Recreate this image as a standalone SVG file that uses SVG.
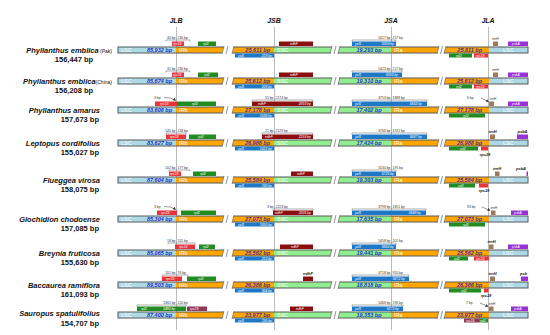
<svg xmlns="http://www.w3.org/2000/svg" width="550" height="335" viewBox="0 0 550 335">
<style>
text{font-family:"Liberation Sans",Arial,sans-serif}
.sp{font-weight:bold;font-style:italic;font-size:7.5px;fill:#111}
.sm{font-weight:normal;font-style:normal;font-size:5px}
.sz{font-weight:bold;font-size:7.5px;fill:#111}
.hd{font-weight:bold;font-style:italic;font-size:7px;fill:#111}
.rg{font-size:5.5px;fill:#fff}
.nb{font-weight:bold;font-style:italic;font-size:5.5px;fill:#2233cc}
.ni{font-weight:bold;font-style:italic;font-size:5.5px;fill:#55289a}
.gl{font-size:3.4px;fill:#fff;font-style:italic}
.bl{font-size:3.4px;fill:#333}
.ol{font-size:4px;fill:#111;font-style:italic;font-weight:bold}
.lsc{fill:#add8e6}.ir{fill:#ffa500}.ssc{fill:#90ee90}
.rps19{fill:#e8333a}.rpl2{fill:#228b22}.ycf1{fill:#1e78c8}.ndhF{fill:#8b0f0f}.trnH{fill:#9c7b5b}.psbA{fill:#9b30d9}.mar{fill:#8e3a59}
.brk{stroke:#777;stroke-width:0.6;fill:none}
.arr{stroke:#333;stroke-width:0.5;fill:none}
.jl{stroke:#aaa;stroke-width:0.8}
</style>
<defs>
<marker id="ah" markerUnits="userSpaceOnUse" markerWidth="3" markerHeight="3" refX="2.5" refY="1.5" orient="auto"><path d="M0,0 L3,1.5 L0,3z" fill="#333"/></marker>
<g id="bar">
<rect x="118" y="0" width="58" height="6" class="lsc"/>
<rect x="176" y="0" width="98" height="6" class="ir"/>
<rect x="274" y="0" width="117" height="6" class="ssc"/>
<rect x="391" y="0" width="98" height="6" class="ir"/>
<rect x="489" y="0" width="39" height="6" class="lsc"/>
<rect x="118" y="0" width="410" height="6" fill="none" stroke="#5a5a5a" stroke-width="1"/>
<polygon points="224,-1 234,-1 232,7 222,7" fill="#fff"/>
<path d="M224,-1 L222,7 M228,-1 L226,7 M234,-1 L232,7" stroke="#666" stroke-width="0.7"/>
<polygon points="332,-1 340,-1 338,7 330,7" fill="#fff"/>
<path d="M332,-1 L330,7 M336,-1 L334,7 M340,-1 L338,7" stroke="#666" stroke-width="0.7"/>
<polygon points="439,-1 446,-1 444,7 437,7" fill="#fff"/>
<path d="M439,-1 L437,7 M442.5,-1 L440.5,7 M446,-1 L444,7" stroke="#666" stroke-width="0.7"/>
<text x="121" y="4.6" class="rg">LSC</text>
<text x="179" y="4.6" class="rg">IRb</text>
<text x="277" y="4.6" class="rg">SSC</text>
<text x="394" y="4.6" class="rg">IRa</text>
<text x="503" y="4.6" class="rg">LSC</text>
</g>
</defs>
<rect width="550" height="335" fill="#fff"/>
<g id="headers">
<text x="176" y="23" text-anchor="middle" class="hd">JLB</text>
<text x="274" y="23" text-anchor="middle" class="hd">JSB</text>
<text x="391" y="23" text-anchor="middle" class="hd">JSA</text>
<text x="488" y="23" text-anchor="middle" class="hd">JLA</text>
</g>
<g id="connectors">
<line x1="176.5" y1="27" x2="176.5" y2="330" class="jl"/>
<line x1="274.5" y1="27" x2="274.5" y2="330" class="jl"/>
<line x1="391.5" y1="27" x2="391.5" y2="330" class="jl"/>
<line x1="488.5" y1="27" x2="488.5" y2="330" class="jl"/>
</g>

<g id="row1" transform="translate(0,47)">
<text x="112" y="6" text-anchor="end" class="sp">Phyllanthus emblica<tspan class="sm"> (Pak)</tspan></text>
<text x="74" y="15" text-anchor="middle" class="sz">156,447 bp</text>
<use href="#bar"/>
<text x="172" y="4.6" text-anchor="end" class="nb">85,932 bp</text>
<text x="270" y="4.6" text-anchor="end" class="ni">25,611 bp</text>
<text x="369" y="4.6" text-anchor="middle" class="nb">19,293 bp</text>
<text x="482" y="4.6" text-anchor="end" class="ni">25,611 bp</text>
<path d="M166,-5.5 V-7 H190 V-5.5" class="brk"/>
<text x="175.5" y="-7.8" text-anchor="end" class="bl">40 bp</text><text x="177.5" y="-7.8" class="bl">230 bp</text>
<rect x="172" y="-5.5" width="12" height="4.5" class="rps19"/><text x="173" y="-2" class="gl">rps19</text>
<rect x="198" y="-5.5" width="18" height="4.5" class="rpl2"/><text x="203" y="-2" class="gl">rpl2</text>
<rect x="235" y="6.5" width="39" height="4" class="ycf1"/><text x="238" y="9.7" class="gl">ycf1</text><text x="272" y="9.7" text-anchor="end" class="gl">218 bp</text>
<rect x="279" y="-5.5" width="34" height="4.5" class="ndhF"/><text x="290" y="-2" class="gl">ndhF</text>
<path d="M352,-5.5 V-7 H396 V-5.5" class="brk"/>
<text x="390.5" y="-7.8" text-anchor="end" class="bl">5417 bp</text><text x="392.5" y="-7.8" class="bl">217 bp</text>
<rect x="352" y="-5.5" width="44" height="4.5" class="ycf1"/><text x="355" y="-2" class="gl">ycf1</text><text x="394" y="-2" text-anchor="end" class="gl">5003 bp</text>
<rect x="493" y="-5.5" width="5" height="4.5" class="trnH"/><text x="495.5" y="-7" text-anchor="middle" class="bl" font-style="italic">trnH</text>
<rect x="508" y="-5.5" width="20" height="4.5" class="psbA"/><text x="512" y="-2" class="gl">psbA</text>
<rect x="449" y="6.5" width="23" height="4" class="rpl2"/><text x="456" y="9.7" class="gl">rpl2</text>
<rect x="474" y="6.5" width="14" height="4" class="rps19"/><text x="476" y="9.7" class="gl">rps19</text>
</g>

<g id="row2" transform="translate(0,78)">
<text x="112" y="6" text-anchor="end" class="sp">Phyllanthus emblica<tspan class="sm">(China)</tspan></text>
<text x="74" y="15" text-anchor="middle" class="sz">156,208 bp</text>
<use href="#bar"/>
<text x="172" y="4.6" text-anchor="end" class="nb">85,674 bp</text>
<text x="270" y="4.6" text-anchor="end" class="ni">25,612 bp</text>
<text x="369" y="4.6" text-anchor="middle" class="nb">19,310 bp</text>
<text x="482" y="4.6" text-anchor="end" class="ni">25,612 bp</text>
<path d="M166,-5.5 V-7 H190 V-5.5" class="brk"/>
<text x="175.5" y="-7.8" text-anchor="end" class="bl">31 bp</text><text x="177.5" y="-7.8" class="bl">230 bp</text>
<rect x="172" y="-5.5" width="12" height="4.5" class="rps19"/><text x="173" y="-2" class="gl">rps19</text>
<rect x="198" y="-5.5" width="20" height="4.5" class="rpl2"/><text x="204" y="-2" class="gl">rpl2</text>
<rect x="235" y="6.5" width="39" height="4" class="ycf1"/><text x="238" y="9.7" class="gl">ycf1</text><text x="272" y="9.7" text-anchor="end" class="gl">208 bp</text>
<rect x="279" y="-5.5" width="34" height="4.5" class="ndhF"/><text x="290" y="-2" class="gl">ndhF</text>
<path d="M352,-5.5 V-7 H402 V-5.5" class="brk"/>
<text x="390.5" y="-7.8" text-anchor="end" class="bl">5423 bp</text><text x="392.5" y="-7.8" class="bl">217 bp</text>
<rect x="352" y="-5.5" width="50" height="4.5" class="ycf1"/><text x="355" y="-2" class="gl">ycf1</text><text x="398" y="-2" text-anchor="end" class="gl">5003 bp</text>
<rect x="493" y="-5.5" width="5" height="4.5" class="trnH"/><text x="495.5" y="-7" text-anchor="middle" class="bl" font-style="italic">trnH</text>
<rect x="508" y="-5.5" width="20" height="4.5" class="psbA"/><text x="512" y="-2" class="gl">psbA</text>
<rect x="449" y="6.5" width="23" height="4" class="rpl2"/><text x="456" y="9.7" class="gl">rpl2</text>
<rect x="474" y="6.5" width="14" height="4" class="rps19"/><text x="476" y="9.7" class="gl">rps19</text>
</g>

<g id="row3" transform="translate(0,107)">
<text x="100" y="6" text-anchor="end" class="sp">Phyllanthus amarus</text>
<text x="99" y="14.5" text-anchor="end" class="sz">157,673 bp</text>
<use href="#bar"/>
<text x="172" y="4.6" text-anchor="end" class="nb">83,606 bp</text>
<text x="270" y="4.6" text-anchor="end" class="ni">27,178 bp</text>
<text x="369" y="4.6" text-anchor="middle" class="nb">17,402 bp</text>
<text x="482" y="4.6" text-anchor="end" class="ni">27,178 bp</text>
<text x="154" y="-8" class="bl">3 bp</text>
<path d="M164,-9.5 Q171,-10 175.5,-6.5" class="arr" marker-end="url(#ah)"/>
<rect x="155" y="-5.5" width="22" height="4.5" class="rps19"/><text x="160" y="-2" class="gl">rps19</text>
<rect x="177" y="-5.5" width="39" height="4.5" class="rpl2"/><text x="192" y="-2" class="gl">rpl2</text>
<path d="M252,-5.5 V-7 H313 V-5.5" class="brk"/>
<text x="273.5" y="-7.8" text-anchor="end" class="bl">55 bp</text><text x="275.5" y="-7.8" class="bl">2174 bp</text>
<rect x="252" y="-5.5" width="61" height="4.5" class="ndhF"/><text x="258" y="-2" class="gl">ndhF</text><text x="311" y="-2" text-anchor="end" class="gl">2059 bp</text>
<rect x="235" y="6.5" width="39" height="4" class="ycf1"/><text x="238" y="9.7" class="gl">ycf1</text><text x="272" y="9.7" text-anchor="end" class="gl">1586 bp</text>
<path d="M352,-5.5 V-7 H427 V-5.5" class="brk"/>
<text x="390.5" y="-7.8" text-anchor="end" class="bl">3753 bp</text><text x="392.5" y="-7.8" class="bl">1888 bp</text>
<rect x="352" y="-5.5" width="75" height="4.5" class="ycf1"/><text x="355" y="-2" class="gl">ycf1</text><text x="422" y="-2" text-anchor="end" class="gl">5662 bp</text>
<text x="467" y="-8" class="bl">6 bp</text>
<path d="M481,-9 L488.5,-5.5" class="arr" marker-end="url(#ah)"/>
<rect x="489" y="-5.5" width="5" height="4.5" class="trnH"/><text x="493" y="-7" text-anchor="middle" class="bl" font-style="italic">trnH</text>
<rect x="508" y="-5.5" width="20" height="4.5" class="psbA"/><text x="512" y="-2" class="gl">psbA</text>
<rect x="449" y="6.5" width="36" height="4" class="rpl2"/><text x="463" y="9.7" class="gl">rpl2</text>
</g>

<g id="row4" transform="translate(0,140)">
<text x="100" y="6" text-anchor="end" class="sp">Leptopus cordifolius</text>
<text x="99" y="15" text-anchor="end" class="sz">155,027 bp</text>
<use href="#bar"/>
<text x="172" y="4.6" text-anchor="end" class="nb">83,627 bp</text>
<text x="270" y="4.6" text-anchor="end" class="ni">26,988 bp</text>
<text x="369" y="4.6" text-anchor="middle" class="nb">17,424 bp</text>
<text x="482" y="4.6" text-anchor="end" class="ni">26,988 bp</text>
<path d="M166,-5.5 V-7 H186 V-5.5" class="brk"/>
<text x="175.5" y="-7.8" text-anchor="end" class="bl">145 bp</text><text x="177.5" y="-7.8" class="bl">134 bp</text>
<rect x="166" y="-5.5" width="20" height="4.5" class="rps19"/><text x="170" y="-2" class="gl">rps19</text>
<rect x="189" y="-5.5" width="27" height="4.5" class="rpl2"/><text x="198" y="-2" class="gl">rpl2</text>
<path d="M262,-5.5 V-7 H313 V-5.5" class="brk"/>
<text x="273.5" y="-7.8" text-anchor="end" class="bl">21 bp</text><text x="275.5" y="-7.8" class="bl">2129 bp</text>
<rect x="262" y="-5.5" width="51" height="4.5" class="ndhF"/><text x="265" y="-2" class="gl">ndhF</text><text x="311" y="-2" text-anchor="end" class="gl">2159 bp</text>
<rect x="235" y="6.5" width="39" height="4" class="ycf1"/><text x="238" y="9.7" class="gl">ycf1</text><text x="272" y="9.7" text-anchor="end" class="gl">1921 bp</text>
<path d="M352,-5.5 V-7 H427 V-5.5" class="brk"/>
<text x="390.5" y="-7.8" text-anchor="end" class="bl">3766 bp</text><text x="392.5" y="-7.8" class="bl">1922 bp</text>
<rect x="352" y="-5.5" width="75" height="4.5" class="ycf1"/><text x="355" y="-2" class="gl">ycf1</text><text x="422" y="-2" text-anchor="end" class="gl">5687 bp</text>
<rect x="490" y="-5.5" width="5" height="4.5" class="trnH"/><text x="492.5" y="-7.5" text-anchor="middle" class="ol">trnH</text>
<rect x="517" y="-5.5" width="11" height="4.5" class="psbA"/><text x="522.5" y="-7.5" text-anchor="middle" class="ol">psbA</text>
<rect x="449" y="6.5" width="29" height="4" class="rpl2"/><text x="460" y="9.7" class="gl">rpl2</text>
<rect x="481" y="6.5" width="7" height="4" class="rps19"/><text x="485" y="16" text-anchor="middle" class="ol">rps19</text>
</g>

<g id="row5" transform="translate(0,177)">
<text x="100" y="6" text-anchor="end" class="sp">Flueggea virosa</text>
<text x="99" y="14.5" text-anchor="end" class="sz">158,075 bp</text>
<use href="#bar"/>
<text x="172" y="4.6" text-anchor="end" class="nb">87,604 bp</text>
<text x="270" y="4.6" text-anchor="end" class="ni">25,584 bp</text>
<text x="369" y="4.6" text-anchor="middle" class="nb">19,303 bp</text>
<text x="482" y="4.6" text-anchor="end" class="ni">25,584 bp</text>
<path d="M169,-5.5 V-7 H190 V-5.5" class="brk"/>
<text x="175.5" y="-7.8" text-anchor="end" class="bl">102 bp</text><text x="177.5" y="-7.8" class="bl">177 bp</text>
<rect x="169" y="-5.5" width="12" height="4.5" class="rps19"/><text x="170" y="-2" class="gl">rps19</text>
<rect x="193" y="-5.5" width="23" height="4.5" class="rpl2"/><text x="200" y="-2" class="gl">rpl2</text>
<rect x="291" y="-5.5" width="22" height="4.5" class="ndhF"/><text x="297" y="-2" class="gl">ndhF</text>
<rect x="235" y="6.5" width="39" height="4" class="ycf1"/><text x="238" y="9.7" class="gl">ycf1</text><text x="272" y="9.7" text-anchor="end" class="gl">195 bp</text>
<path d="M352,-5.5 V-7 H396 V-5.5" class="brk"/>
<text x="390.5" y="-7.8" text-anchor="end" class="bl">5530 bp</text><text x="392.5" y="-7.8" class="bl">195 bp</text>
<rect x="352" y="-5.5" width="44" height="4.5" class="ycf1"/><text x="355" y="-2" class="gl">ycf1</text><text x="394" y="-2" text-anchor="end" class="gl">5725 bp</text>
<rect x="495" y="-5.5" width="4.5" height="4.5" class="trnH"/><text x="497" y="-7.5" text-anchor="middle" class="ol">trnH</text>
<rect x="526.5" y="-5.5" width="1.5" height="4.5" class="psbA"/><text x="521" y="-7.5" text-anchor="middle" class="ol">psbA</text>
<rect x="449" y="6.5" width="26" height="4" class="rpl2"/><text x="458" y="9.7" class="gl">rpl2</text>
<rect x="479" y="6.5" width="9" height="4" class="rps19"/><text x="484" y="15" text-anchor="middle" class="ol">rps19</text>
</g>

<g id="row6" transform="translate(0,216)">
<text x="100" y="6" text-anchor="end" class="sp">Glochidion chodoense</text>
<text x="99" y="14.5" text-anchor="end" class="sz">157,085 bp</text>
<use href="#bar"/>
<text x="172" y="4.6" text-anchor="end" class="nb">85,304 bp</text>
<text x="270" y="4.6" text-anchor="end" class="ni">27,073 bp</text>
<text x="369" y="4.6" text-anchor="middle" class="nb">17,635 bp</text>
<text x="482" y="4.6" text-anchor="end" class="ni">27,073 bp</text>
<text x="154" y="-8" class="bl">3 bp</text>
<path d="M164,-9.5 Q171,-10 175.5,-6.5" class="arr" marker-end="url(#ah)"/>
<rect x="157" y="-5.5" width="20" height="4.5" class="rps19"/><text x="161" y="-2" class="gl">rps19</text>
<rect x="181" y="-5.5" width="35" height="4.5" class="rpl2"/><text x="194" y="-2" class="gl">rpl2</text>
<path d="M273,-5.5 V-7 H313 V-5.5" class="brk"/>
<text x="273.5" y="-7.8" text-anchor="end" class="bl">3 bp</text><text x="275.5" y="-7.8" class="bl">2223 bp</text>
<rect x="273" y="-5.5" width="40" height="4.5" class="ndhF"/><text x="275" y="-2" class="gl">ndhF</text><text x="311" y="-2" text-anchor="end" class="gl">2205 bp</text>
<rect x="235" y="6.5" width="39" height="4" class="ycf1"/><text x="238" y="9.7" class="gl">ycf1</text><text x="272" y="9.7" text-anchor="end" class="gl">1850 bp</text>
<path d="M352,-5.5 V-7 H426 V-5.5" class="brk"/>
<text x="390.5" y="-7.8" text-anchor="end" class="bl">3798 bp</text><text x="392.5" y="-7.8" class="bl">1851 bp</text>
<rect x="352" y="-5.5" width="74" height="4.5" class="ycf1"/><text x="355" y="-2" class="gl">ycf1</text><text x="421" y="-2" text-anchor="end" class="gl">5648 bp</text>
<text x="467" y="-8" class="bl">33 bp</text>
<path d="M482,-9 L490,-5.5" class="arr" marker-end="url(#ah)"/>
<rect x="491" y="-5.5" width="4.5" height="4.5" class="trnH"/><text x="494" y="-7" text-anchor="middle" class="bl" font-style="italic">trnH</text>
<rect x="511" y="-5.5" width="17" height="4.5" class="psbA"/><text x="514" y="-2" class="gl">psbA</text>
<rect x="449" y="6.5" width="36" height="4" class="rpl2"/><text x="463" y="9.7" class="gl">rpl2</text>
</g>

<g id="row7" transform="translate(0,250)">
<text x="100" y="6" text-anchor="end" class="sp">Breynia fruticosa</text>
<text x="99" y="14.5" text-anchor="end" class="sz">155,630 bp</text>
<use href="#bar"/>
<text x="172" y="4.6" text-anchor="end" class="nb">85,065 bp</text>
<text x="270" y="4.6" text-anchor="end" class="ni">25,562 bp</text>
<text x="369" y="4.6" text-anchor="middle" class="nb">19,441 bp</text>
<text x="482" y="4.6" text-anchor="end" class="ni">25,562 bp</text>
<path d="M168,-5.5 V-7 H195 V-5.5" class="brk"/>
<text x="175.5" y="-7.8" text-anchor="end" class="bl">18 bp</text><text x="177.5" y="-7.8" class="bl">201 bp</text>
<rect x="175" y="-5.5" width="20" height="4.5" class="rps19"/><text x="179" y="-2" class="gl">rps19</text>
<rect x="199" y="-5.5" width="16" height="4.5" class="rpl2"/><text x="203" y="-2" class="gl">rpl2</text>
<rect x="280" y="-5.5" width="33" height="4.5" class="ndhF"/><text x="291" y="-2" class="gl">ndhF</text>
<rect x="235" y="6.5" width="39" height="4" class="ycf1"/><text x="238" y="9.7" class="gl">ycf1</text><text x="272" y="9.7" text-anchor="end" class="gl">213 bp</text>
<path d="M352,-5.5 V-7 H396 V-5.5" class="brk"/>
<text x="390.5" y="-7.8" text-anchor="end" class="bl">5458 bp</text><text x="392.5" y="-7.8" class="bl">201 bp</text>
<rect x="352" y="-5.5" width="44" height="4.5" class="ycf1"/><text x="355" y="-2" class="gl">ycf1</text><text x="394" y="-2" text-anchor="end" class="gl">5663 bp</text>
<rect x="489" y="-5.5" width="4.5" height="4.5" class="trnH"/><text x="491.5" y="-7.5" text-anchor="middle" class="ol">trnH</text>
<rect x="508" y="-5.5" width="20" height="4.5" class="psbA"/><text x="512" y="-2" class="gl">psbA</text>
<rect x="449" y="6.5" width="19" height="4" class="rpl2"/><text x="454" y="9.7" class="gl">rpl2</text>
<rect x="474" y="6.5" width="15" height="4" class="rps19"/><text x="476" y="9.7" class="gl">rps19</text>
</g>

<g id="row8" transform="translate(0,282)">
<text x="100" y="6" text-anchor="end" class="sp">Baccaurea ramiflora</text>
<text x="99" y="14.5" text-anchor="end" class="sz">161,093 bp</text>
<use href="#bar"/>
<text x="172" y="4.6" text-anchor="end" class="nb">89,503 bp</text>
<text x="270" y="4.6" text-anchor="end" class="ni">26,386 bp</text>
<text x="369" y="4.6" text-anchor="middle" class="nb">18,818 bp</text>
<text x="482" y="4.6" text-anchor="end" class="ni">26,386 bp</text>
<path d="M162,-5.5 V-7 H188 V-5.5" class="brk"/>
<text x="175.5" y="-7.8" text-anchor="end" class="bl">201 bp</text><text x="177.5" y="-7.8" class="bl">76 bp</text>
<rect x="162" y="-5.5" width="20" height="4.5" class="rps19"/><text x="166" y="-2" class="gl">rps19</text>
<rect x="187" y="-5.5" width="29" height="4.5" class="rpl2"/><text x="198" y="-2" class="gl">rpl2</text>
<rect x="303" y="-5.5" width="10" height="4.5" class="ndhF"/><text x="308" y="-7.5" text-anchor="middle" class="ol">ndhF</text>
<rect x="235" y="6.5" width="39" height="4" class="ycf1"/><text x="238" y="9.7" class="gl">ycf1</text><text x="272" y="9.7" text-anchor="end" class="gl">954 bp</text>
<path d="M352,-5.5 V-7 H409 V-5.5" class="brk"/>
<text x="390.5" y="-7.8" text-anchor="end" class="bl">4718 bp</text><text x="392.5" y="-7.8" class="bl">955 bp</text>
<rect x="352" y="-5.5" width="57" height="4.5" class="ycf1"/><text x="355" y="-2" class="gl">ycf1</text><text x="405" y="-2" text-anchor="end" class="gl">5072 bp</text>
<rect x="490" y="-5.5" width="5" height="4.5" class="trnH"/><text x="492.5" y="-7.5" text-anchor="middle" class="ol">trnH</text>
<rect x="521" y="-5.5" width="7" height="4.5" class="psbA"/><text x="520" y="-7.5" class="ol">psb</text>
<rect x="449" y="6.5" width="32" height="4" class="rpl2"/><text x="461" y="9.7" class="gl">rpl2</text>
<rect x="484" y="6.5" width="4.5" height="4" class="rps19"/><text x="486" y="15" text-anchor="middle" class="ol">rps19</text>
</g>

<g id="row9" transform="translate(0,312)">
<text x="100" y="4" text-anchor="end" class="sp">Sauropus spatulifolius</text>
<text x="99" y="14" text-anchor="end" class="sz">154,707 bp</text>
<use href="#bar"/>
<text x="172" y="4.6" text-anchor="end" class="nb">87,400 bp</text>
<text x="270" y="4.6" text-anchor="end" class="ni">23,977 bp</text>
<text x="369" y="4.6" text-anchor="middle" class="nb">19,353 bp</text>
<text x="482" y="4.6" text-anchor="end" class="ni">23,977 bp</text>
<path d="M137,-5.5 V-7 H186 V-5.5" class="brk"/>
<text x="175.5" y="-7.8" text-anchor="end" class="bl">1362 bp</text><text x="177.5" y="-7.8" class="bl">120 bp</text>
<rect x="137" y="-5.5" width="49" height="4.5" class="rpl2"/><text x="141" y="-2" class="gl">rpl2</text><text x="163" y="-2" class="gl">1480 bp</text>
<rect x="187" y="-5.5" width="20" height="4.5" class="mar"/><text x="190" y="-2" class="gl">rps19</text>
<rect x="290" y="-5.5" width="23" height="4.5" class="ndhF"/><text x="296" y="-2" class="gl">ndhF</text>
<rect x="235" y="6.5" width="39" height="4" class="ycf1"/><text x="238" y="9.7" class="gl">ycf1</text><text x="272" y="9.7" text-anchor="end" class="gl">195 bp</text>
<path d="M352,-5.5 V-7 H403 V-5.5" class="brk"/>
<text x="390.5" y="-7.8" text-anchor="end" class="bl">5468 bp</text><text x="392.5" y="-7.8" class="bl">196 bp</text>
<rect x="352" y="-5.5" width="51" height="4.5" class="ycf1"/><text x="355" y="-2" class="gl">ycf1</text><text x="399" y="-2" text-anchor="end" class="gl">5272 bp</text>
<text x="466" y="-8" class="bl">7 bp</text>
<path d="M480,-9 L488,-5.5" class="arr" marker-end="url(#ah)"/>
<rect x="489" y="-5.5" width="4.5" height="4.5" class="trnH"/><text x="492" y="-7.5" text-anchor="middle" class="bl" font-style="italic">trnH</text>
<rect x="511" y="-5.5" width="17" height="4.5" class="psbA"/><text x="514" y="-2" class="gl">psbA</text>
<rect x="464" y="6.5" width="15" height="4" class="mar"/><text x="466" y="9.7" class="gl">rps19</text>
<rect x="479" y="6.5" width="9" height="4" class="rpl2"/><text x="480" y="9.7" class="gl">rpl2</text>
</g>
</svg>
